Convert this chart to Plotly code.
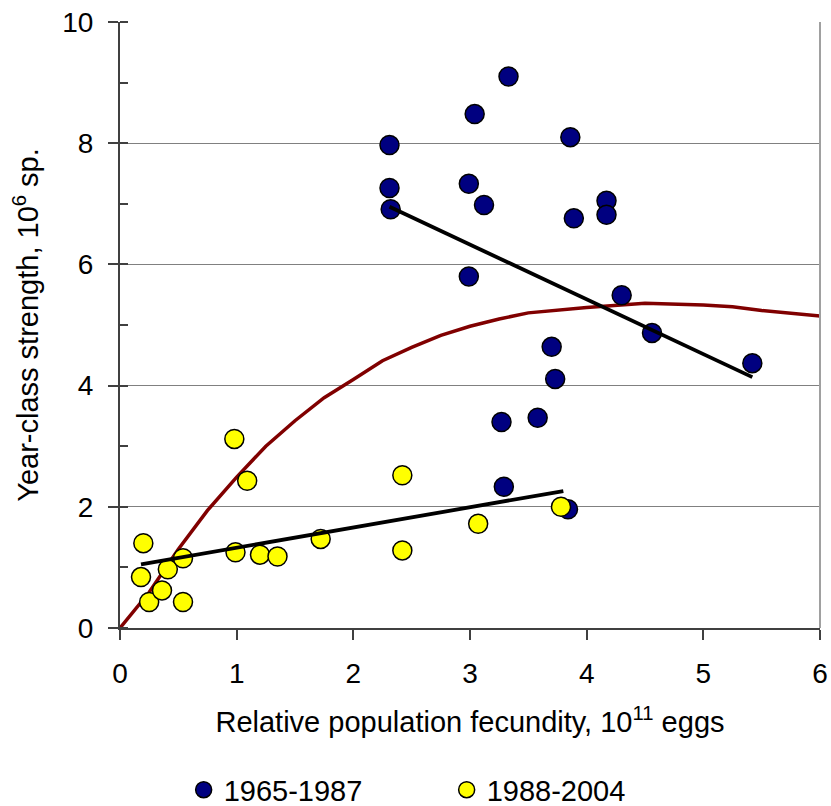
import plotly.graph_objects as go

# ---- data ----
blue_x = [2.31, 2.31, 2.32, 3.04, 3.33, 2.99, 3.12, 2.99, 3.86, 3.89, 4.17, 4.17,
          4.30, 4.56, 5.42, 3.70, 3.73, 3.27, 3.58, 3.29, 3.84]
blue_y = [7.97, 7.26, 6.91, 8.48, 9.10, 7.33, 6.98, 5.80, 8.10, 6.76, 7.05, 6.82,
          5.49, 4.87, 4.37, 4.64, 4.11, 3.40, 3.47, 2.33, 1.96]

yellow_x = [0.20, 0.18, 0.25, 0.36, 0.41, 0.54, 0.54, 0.98, 1.09, 0.99, 1.20, 1.35,
            1.72, 2.42, 2.42, 3.07, 3.78]
yellow_y = [1.40, 0.84, 0.43, 0.62, 0.97, 1.15, 0.43, 3.12, 2.43, 1.25, 1.21, 1.18,
            1.47, 2.52, 1.28, 1.72, 2.00]

curve_x = [0, 0.25, 0.5, 0.75, 1.0, 1.25, 1.5, 1.75, 2.0, 2.25, 2.5, 2.75, 3.0,
           3.25, 3.5, 4.0, 4.5, 5.0, 5.25, 5.5, 6.0]
curve_y = [0, 0.59, 1.30, 1.94, 2.49, 3.00, 3.42, 3.80, 4.10, 4.41, 4.63, 4.83, 4.98,
           5.10, 5.20, 5.29, 5.36, 5.33, 5.30, 5.24, 5.15]

trend_blue_x = [2.31, 5.42]
trend_blue_y = [6.95, 4.14]
trend_yellow_x = [0.18, 3.80]
trend_yellow_y = [1.05, 2.26]

series_names = ["1965-1987", "1988-2004"]
x_ticks = [0, 1, 2, 3, 4, 5, 6]
y_ticks = [0, 2, 4, 6, 8, 10]

FONT = "Liberation Sans, Arial, sans-serif"

fig = go.Figure()

fig.add_trace(go.Scatter(x=curve_x, y=curve_y, mode="lines",
                         line=dict(color="#800000", width=3.5),
                         showlegend=False, hoverinfo="skip"))

fig.add_trace(go.Scatter(x=blue_x, y=blue_y, mode="markers", name=series_names[0],
                         marker=dict(symbol="circle", size=19, color="#000080",
                                     line=dict(color="black", width=1.5))))
fig.add_trace(go.Scatter(x=yellow_x, y=yellow_y, mode="markers", name=series_names[1],
                         marker=dict(symbol="circle", size=19, color="#FFFF00",
                                     line=dict(color="black", width=1.5))))

fig.add_trace(go.Scatter(x=trend_blue_x, y=trend_blue_y, mode="lines",
                         line=dict(color="black", width=3.8),
                         showlegend=False, hoverinfo="skip"))
fig.add_trace(go.Scatter(x=trend_yellow_x, y=trend_yellow_y, mode="lines",
                         line=dict(color="black", width=3.8),
                         showlegend=False, hoverinfo="skip"))

fig.update_layout(
    width=831, height=806,
    margin=dict(l=120, r=11, t=22, b=178, autoexpand=False),
    paper_bgcolor="white", plot_bgcolor="white",
    font=dict(family=FONT, size=29, color="black"),
    legend=dict(orientation="h", xref="container", yref="container",
                x=0.221, xanchor="left", y=0.02, yanchor="middle",
                font=dict(size=29), entrywidth=218, entrywidthmode="pixels",
                itemwidth=30, bgcolor="rgba(0,0,0,0)"),
    xaxis=dict(range=[0, 6], tickvals=x_ticks, ticks="outside", ticklen=10,
               tickcolor="#404040", tickwidth=1.5, automargin=False,
               showline=True, linecolor="#404040", linewidth=2,
               showgrid=False, zeroline=False, ticklabelstandoff=9,
               tickfont=dict(size=28),
               title=dict(text="Relative population fecundity, 10<sup>11</sup> eggs",
                          font=dict(size=29), standoff=24)),
    yaxis=dict(range=[0, 10], tickvals=y_ticks, ticks="outside", ticklen=10,
               tickcolor="#404040", tickwidth=1.5, automargin=False,
               showline=True, linecolor="#404040", linewidth=2,
               showgrid=True, gridcolor="#808080", gridwidth=1,
               zeroline=False, tickfont=dict(size=28), ticklabelstandoff=9,
               minor=dict(dtick=1, ticks="inside", ticklen=8, tickcolor="#404040",
                          showgrid=False),
               title=dict(text="Year-class strength, 10<sup>6</sup> sp.",
                          font=dict(size=29), standoff=15)),
)

# right frame line of the plot area
fig.add_shape(type="line", xref="paper", yref="paper", x0=1, x1=1, y0=0, y1=1,
              line=dict(color="#a0a0a0", width=2))

fig.write_html("out.html")
